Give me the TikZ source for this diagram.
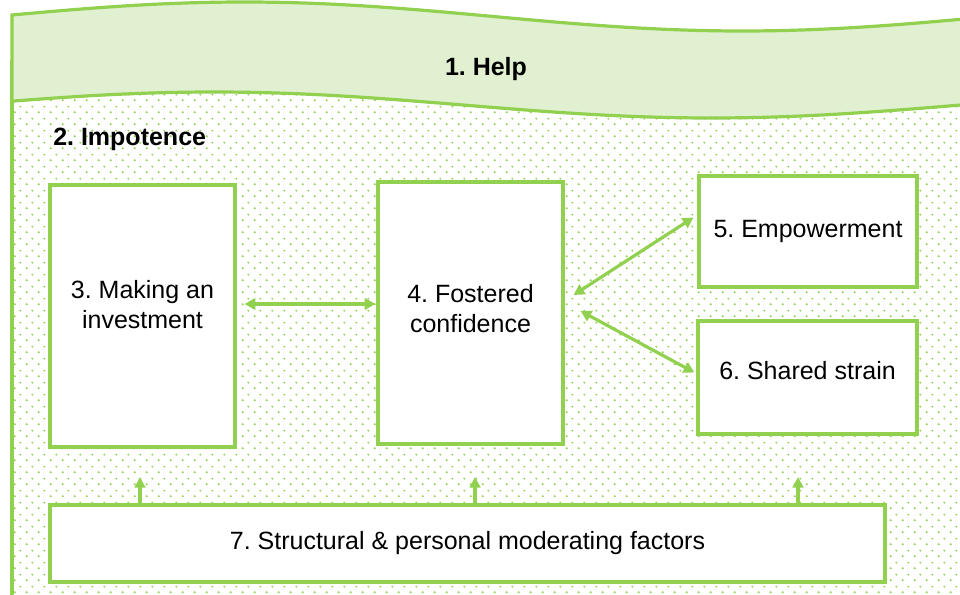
\documentclass[tikz,border=0pt]{standalone}
\usepackage{fontspec}
\setmainfont{Liberation Sans}
\usetikzlibrary{arrows.meta}
\usetikzlibrary{patterns}
\usetikzlibrary{calc}
\definecolor{lgreen}{RGB}{146,208,80}
\definecolor{pgreen}{RGB}{224,240,208}
\pgfdeclarepatternformonly{greendots}{\pgfqpoint{0pt}{0pt}}{\pgfqpoint{9pt}{9pt}}{\pgfqpoint{9pt}{9pt}}{%
  \pgfpathcircle{\pgfqpoint{2.25pt}{2.25pt}}{0.85pt}%
  \pgfpathcircle{\pgfqpoint{6.75pt}{6.75pt}}{0.85pt}%
  \pgfusepath{fill}}
\tikzset{bx/.style={draw=lgreen,fill=white,line width=2.4pt,inner sep=0pt,align=center,font=\fontsize{18.75}{22.5}\selectfont}}
\tikzset{hd/.style={inner sep=0pt,font=\fontsize{18.75}{22.5}\selectfont\bfseries}}
\tikzset{da/.style={lgreen,line width=2.4pt,{Triangle[length=8pt,width=8.5pt]}-{Triangle[length=8pt,width=8.5pt]}}}
\tikzset{ua/.style={lgreen,line width=2.4pt,-{Triangle[length=8pt,width=8pt]}}}

\begin{document}
\frenchspacing
\begin{tikzpicture}[x=0.75pt,y=-0.75pt]
  \useasboundingbox (0,0) rectangle (960,595);
  \clip (0,0) rectangle (960,595);
  % dotted frame
  \fill[pattern=greendots,pattern color=lgreen] (12,60) rectangle (1000,640);
  \draw[lgreen,line width=2.4pt] (12,60) -- (12,640);
  % wave banner
  \filldraw[draw=lgreen,fill=pgreen,line width=2.4pt]
    plot[domain=12:1000,samples=80] (\x,{16.5-14.5*sin(0.3614*(\x-12)+6)})
    -- plot[domain=1000:12,samples=80] (\x,{105-13*sin(0.3614*(\x-12)+17)}) -- cycle;
  \node[hd] (H) at (486,69) {1. Help};
  \node[hd,anchor=west] (I) at (53,139) {2. Impotence};

  \node[bx,minimum width=138.75pt,minimum height=196.5pt,text depth=18pt] (MI) at (142.5,316) {3. Making an\\investment};
  \node[bx,minimum width=138.75pt,minimum height=196.5pt,text depth=7.5pt] (FC) at (470.5,313) {4. Fostered\\confidence};
  \node[bx,minimum width=163.5pt,minimum height=83.25pt] (EM) at (808,231.5) {5. Empowerment};
  \node[bx,minimum width=164.25pt,minimum height=84.75pt,text depth=10.5pt] (SS) at (807.5,377.5) {6. Shared strain};
  \node[bx,minimum width=626.25pt,minimum height=57.75pt] (SPMF) at (467.5,543.5) {7. Structural \& personal moderating factors};

  \draw[da] ($(MI.east)+(8,-12)$) -- ($(FC.west)+(-1,-9)$);
  \draw[da] ($(FC.east)+(9,-18)$) -- ($(EM.west)+(-4,-14)$);
  \draw[da] ($(FC.east)+(16,-2)$) -- ($(SS.west)+(-2,-5)$);

  \coordinate (T3) at (140,477);
  \coordinate (T4) at (475,477);
  \coordinate (T6) at (798,477);
  \draw[ua] (T3 |- SPMF.north) -- (T3);
  \draw[ua] (T4 |- SPMF.north) -- (T4);
  \draw[ua] (T6 |- SPMF.north) -- (T6);
\end{tikzpicture}
\end{document}
